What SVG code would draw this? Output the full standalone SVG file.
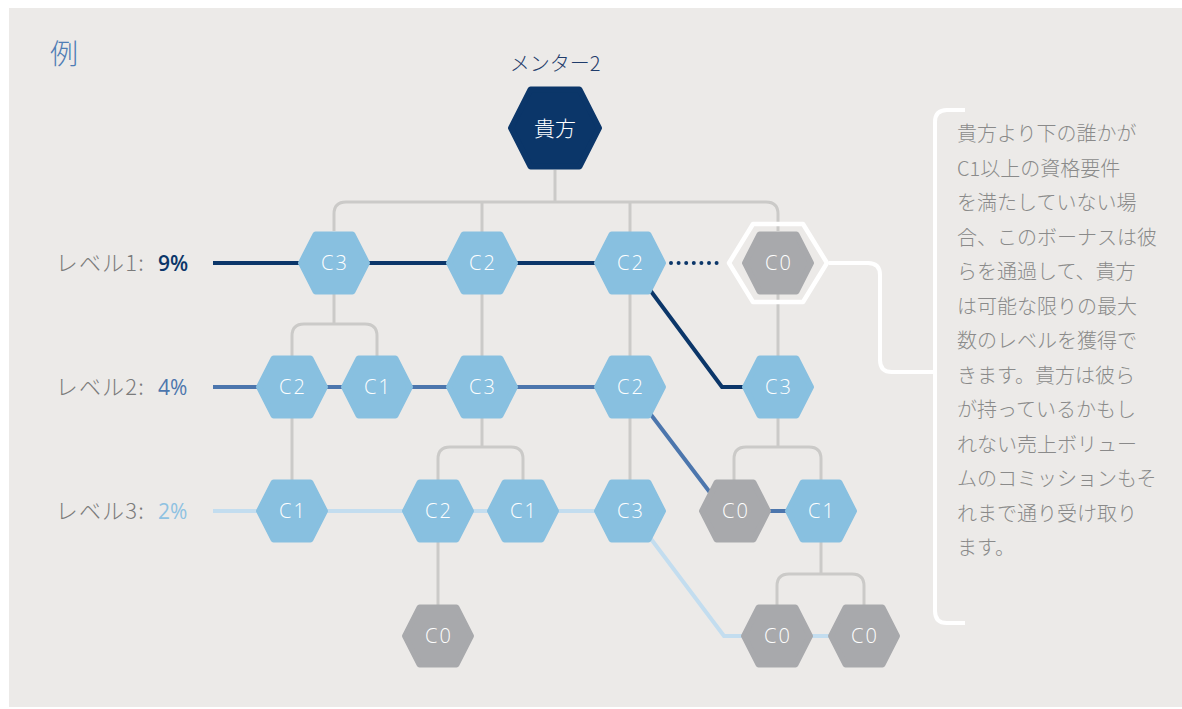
<svg xmlns="http://www.w3.org/2000/svg" xmlns:xlink="http://www.w3.org/1999/xlink" width="1182" height="709" viewBox="0 0 1182 709">
<style>
.bg{fill:#ECEAE8}
.gl{fill:none;stroke:#CBCAC8;stroke-width:3}
.l1{fill:none;stroke:#0B3669;stroke-width:4}
.l2{fill:none;stroke:#4C76AD;stroke-width:4}
.l3{fill:none;stroke:#C3DDEF;stroke-width:4}
.wl{fill:none;stroke:#FFFFFF;stroke-width:4;stroke-linejoin:round}
.hb{fill:#88C0E0;stroke:#88C0E0;stroke-width:6;stroke-linejoin:round}
.hg{fill:#A8A9AC;stroke:#A8A9AC;stroke-width:6;stroke-linejoin:round}
.hd{fill:#0B3669;stroke:#0B3669;stroke-width:6;stroke-linejoin:round}
.nt{font-family:"Open Sans","Liberation Sans",sans-serif;font-size:20px;font-weight:300;fill:#FFFFFF;text-anchor:middle;letter-spacing:2px}
.jp{font-family:"Noto Sans CJK JP",sans-serif;font-weight:300}
.lab{font-size:22px;fill:#7B7B7B;text-anchor:end;letter-spacing:1.2px}
.pct{font-family:"Open Sans","Liberation Sans",sans-serif;font-size:21px}
.desc{font-size:20px;fill:#8A8A8A}
</style>
<defs>
<path id="hex" d="M-33,0 L-18.5,-28.5 L18.5,-28.5 L33,0 L18.5,28.5 L-18.5,28.5 Z"/>
<path id="bighex" d="M-44,0 L-24.5,-38.5 L24.5,-38.5 L44,0 L24.5,38.5 L-24.5,38.5 Z"/>
</defs>
<rect class="bg" x="9" y="8" width="1173" height="699"/>
<text x="50" y="64" class="jp" font-size="28" fill="#4F7DB5">例</text>
<text x="555" y="71" class="jp" font-size="20" fill="#1F3C6B" text-anchor="middle">メンター2</text>

<g id="level-labels">
<text x="145" y="271" class="jp lab">レベル1:</text>
<text x="158" y="271" class="pct" fill="#0B3669" font-weight="600">9%</text>
<text x="145" y="395" class="jp lab">レベル2:</text>
<text x="158" y="395" class="pct" fill="#4C76AD">4%</text>
<text x="145" y="519" class="jp lab">レベル3:</text>
<text x="158" y="519" class="pct" fill="#8FC2E2">2%</text>
</g>

<g id="connectors">
<path class="gl" d="M555,170 V202 M334,231 V214 Q334,202 346,202 H766 Q778,202 778,214 V231 M482,202 V356 M630,202 V480 M778,263 V356"/>
<path class="gl" d="M334,263 V324 M292,356 V336 Q292,324 304,324 H365 Q377,324 377,336 V356 M292,387 V480"/>
<path class="gl" d="M482,387 V447 M438,480 V459 Q438,447 450,447 H511 Q523,447 523,459 V480 M438,511 V605"/>
<path class="gl" d="M778,387 V447 M734,480 V459 Q734,447 746,447 H809 Q821,447 821,459 V480"/>
<path class="gl" d="M821,511 V574 M777,605 V586 Q777,574 789,574 H852 Q864,574 864,586 V605"/>
<path class="l1" d="M213,263 H630 L722,387 H778"/>
<line x1="671" y1="263" x2="724" y2="263" stroke="#0B3669" stroke-width="4" stroke-linecap="round" stroke-dasharray="0 7.6"/>
<path class="l2" d="M213,387 H630 L724,511 H821"/>
<path class="l3" d="M213,511 H630 L724,636 H864"/>
<path class="wl" d="M829,263 H868 Q880,263 880,275 V360 Q880,372 892,372 H933"/>
<path class="wl" d="M965,110 H947 Q935,110 935,122 V611 Q935,623 947,623 H965"/>
</g>

<g id="node-you"><use xlink:href="#bighex" class="hd" transform="translate(555,128)"/><text x="555" y="136" class="jp" font-size="21" fill="#FFFFFF" text-anchor="middle">貴方</text></g>

<g id="n1a"><use xlink:href="#hex" class="hb" transform="translate(334,263)"/><text x="335" y="270" class="nt">C3</text></g>
<g id="n1b"><use xlink:href="#hex" class="hb" transform="translate(482,263)"/><text x="483" y="270" class="nt">C2</text></g>
<g id="n1c"><use xlink:href="#hex" class="hb" transform="translate(630,263)"/><text x="631" y="270" class="nt">C2</text></g>
<g id="n1d"><path d="M729,263 L753,224 L803,224 L827,263 L803,302 L753,302 Z" fill="none" stroke="#FFFFFF" stroke-width="4.5" stroke-linejoin="round"/><use xlink:href="#hex" class="hg" transform="translate(778,263)"/><text x="779" y="270" class="nt">C0</text></g>

<g id="n2a"><use xlink:href="#hex" class="hb" transform="translate(292,387)"/><text x="293" y="394" class="nt">C2</text></g>
<g id="n2b"><use xlink:href="#hex" class="hb" transform="translate(377,387)"/><text x="378" y="394" class="nt">C1</text></g>
<g id="n2c"><use xlink:href="#hex" class="hb" transform="translate(482,387)"/><text x="483" y="394" class="nt">C3</text></g>
<g id="n2d"><use xlink:href="#hex" class="hb" transform="translate(630,387)"/><text x="631" y="394" class="nt">C2</text></g>
<g id="n2e"><use xlink:href="#hex" class="hb" transform="translate(778,387)"/><text x="779" y="394" class="nt">C3</text></g>

<g id="n3a"><use xlink:href="#hex" class="hb" transform="translate(292,511)"/><text x="293" y="518" class="nt">C1</text></g>
<g id="n3b"><use xlink:href="#hex" class="hb" transform="translate(438,511)"/><text x="439" y="518" class="nt">C2</text></g>
<g id="n3c"><use xlink:href="#hex" class="hb" transform="translate(523,511)"/><text x="524" y="518" class="nt">C1</text></g>
<g id="n3d"><use xlink:href="#hex" class="hb" transform="translate(630,511)"/><text x="631" y="518" class="nt">C3</text></g>
<g id="n3e"><use xlink:href="#hex" class="hg" transform="translate(735,511)"/><text x="736" y="518" class="nt">C0</text></g>
<g id="n3f"><use xlink:href="#hex" class="hb" transform="translate(821,511)"/><text x="822" y="518" class="nt">C1</text></g>

<g id="n4a"><use xlink:href="#hex" class="hg" transform="translate(438,636)"/><text x="439" y="643" class="nt">C0</text></g>
<g id="n4b"><use xlink:href="#hex" class="hg" transform="translate(777,636)"/><text x="778" y="643" class="nt">C0</text></g>
<g id="n4c"><use xlink:href="#hex" class="hg" transform="translate(864,636)"/><text x="865" y="643" class="nt">C0</text></g>

<g id="description" class="jp desc">
<text x="957" y="141">貴方より下の誰かが</text>
<text x="957" y="175.5">C1以上の資格要件</text>
<text x="957" y="210">を満たしていない場</text>
<text x="957" y="244.5">合、このボーナスは彼</text>
<text x="957" y="279">らを通過して、貴方</text>
<text x="957" y="313.5">は可能な限りの最大</text>
<text x="957" y="348">数のレベルを獲得で</text>
<text x="957" y="382.5">きます。貴方は彼ら</text>
<text x="957" y="417">が持っているかもし</text>
<text x="957" y="451.5">れない売上ボリュー</text>
<text x="957" y="486">ムのコミッションもそ</text>
<text x="957" y="520.5">れまで通り受け取り</text>
<text x="957" y="555">ます。</text>
</g>
</svg>
